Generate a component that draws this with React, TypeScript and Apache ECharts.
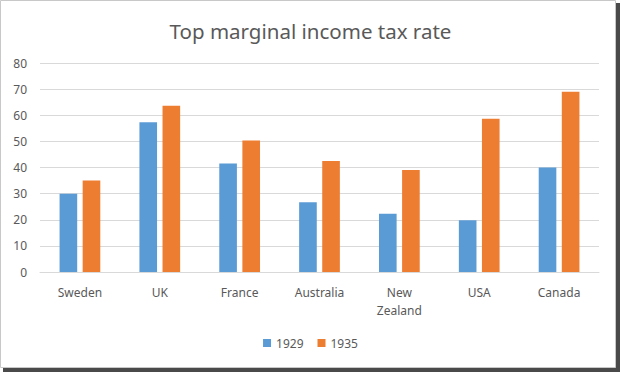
import React, { useEffect, useRef } from "react";
import * as echarts from "echarts";

const categories = ["Sweden", "UK", "France", "Australia", "New\nZealand", "USA", "Canada"];
const values1929 = [30, 57.3, 41.5, 26.7, 22.3, 19.8, 40];
const values1935 = [35, 63.6, 50.3, 42.5, 39, 58.7, 69];
const seriesNames = ["1929", "1935"];
const chartTitle = "Top marginal income tax rate";

const FONT = "Noto Sans";

export default function App() {
  const ref = useRef<HTMLDivElement>(null);
  useEffect(() => {
    if (!ref.current) return;
    const chart = echarts.init(ref.current, undefined, { renderer: "svg" });
    chart.setOption({
      animation: false,
      backgroundColor: "#ffffff",
      textStyle: { fontFamily: FONT },
      graphic: [
        { type: "rect", z: -10, shape: { x: 3, y: 3, width: 617, height: 369 }, style: { fill: "#4a4a4a" } },
        { type: "rect", z: -9, shape: { x: 0.5, y: 0.5, width: 615, height: 367 }, style: { fill: "#ffffff", stroke: "#c8c8c8", lineWidth: 1 } },
      ],
      title: {
        text: chartTitle,
        left: "center",
        top: 15,
        textStyle: { fontFamily: FONT, fontSize: 20.5, fontWeight: "normal", color: "#595959" },
      },
      legend: {
        bottom: 20,
        left: "center",
        itemWidth: 8,
        itemHeight: 8,
        itemGap: 14,
        icon: "rect",
        textStyle: { fontFamily: FONT, fontSize: 12, color: "#595959" },
        data: seriesNames,
      },
      grid: { left: 40, right: 22, top: 63, bottom: 102, containLabel: false },
      xAxis: {
        type: "category",
        data: categories,
        axisLine: { lineStyle: { color: "#d9d9d9" } },
        axisTick: { show: false },
        axisLabel: { fontFamily: FONT, fontSize: 12, color: "#595959", margin: 11, lineHeight: 18, interval: 0 },
      },
      yAxis: {
        type: "value",
        min: 0,
        max: 80,
        interval: 10,
        axisLine: { show: false },
        axisTick: { show: false },
        splitLine: { lineStyle: { color: "#d9d9d9" } },
        axisLabel: { fontFamily: FONT, fontSize: 12, color: "#595959", margin: 13 },
      },
      series: [
        {
          name: seriesNames[0],
          type: "bar",
          data: values1929,
          barGap: "31%",
          barCategoryGap: "49%",
          itemStyle: { color: "#5B9BD5" },
        },
        {
          name: seriesNames[1],
          type: "bar",
          data: values1935,
          barGap: "31%",
          barCategoryGap: "49%",
          itemStyle: { color: "#ED7D31" },
        },
      ],
    });
    return () => chart.dispose();
  }, []);
  return (
    <div
      ref={ref}
      style={{ position: "fixed", left: 0, top: 0, width: 621, height: 374 }}
    />
  );
}
